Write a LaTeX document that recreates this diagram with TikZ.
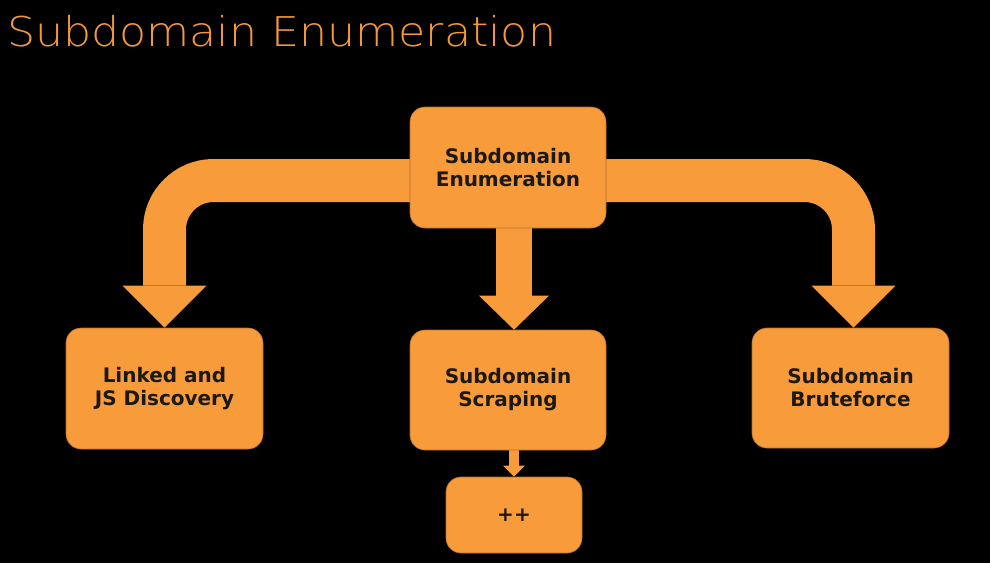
\documentclass[tikz,border=0pt]{standalone}
\usepackage{fontspec}
\setmainfont{DejaVu Sans}
\newfontfamily\titlefont{DejaVu Sans ExtraLight}[FakeStretch=1.08]
\usetikzlibrary{arrows.meta,backgrounds}

\definecolor{boxorange}{HTML}{F89B3B}
\definecolor{titleorange}{HTML}{F4983A}
\definecolor{boxtext}{HTML}{1C1814}
\definecolor{boxedge}{HTML}{B86E25}

\tikzset{
	stepbox/.style={fill=boxorange, draw=boxedge, line width=0.6pt, rounded corners=15pt,
		text=boxtext, font=\bfseries\fontsize{20}{23}\selectfont, align=center,
		minimum width=196pt, minimum height=121pt, inner sep=0pt},
	bigarrow/.style={draw=boxorange, line width=43pt, rounded corners=49pt,
		-{Triangle[width=84pt, length=42pt, line width=0pt]}},
}

\begin{document}
\begin{tikzpicture}[x=1pt, y=-1pt]
	% Title
	\node[anchor=base west, inner sep=0pt, text=titleorange,
		font=\titlefont\fontsize{41}{41}\selectfont] (title) at (7, 46) {Subdomain Enumeration};
	
	% Boxes
	\node[stepbox] (enum) at (508, 167.5) {Subdomain\\Enumeration};
	\node[stepbox, minimum width=197pt] (linked) at (164.5, 388.5) {Linked and\\JS Discovery};
	\node[stepbox, minimum height=120pt] (scraping) at (508, 390) {Subdomain\\Scraping};
	\node[stepbox, minimum width=197pt, minimum height=120pt] (brute) at (850.5, 388) {Subdomain\\Bruteforce};
	\node[stepbox, minimum width=136pt, minimum height=76pt] (more) at (514, 515) {++};
	
	\begin{scope}[on background layer]
		\fill[black] (0, 0) rectangle (990, 563);
		
		% Bent arrows behind the top box
		\draw[bigarrow] ([yshift=-13pt]enum.center) -| (linked.north);
		\draw[bigarrow] ([yshift=-13pt]enum.center) -| ([xshift=3pt]brute.north);
		
		% Straight arrows
		\draw[draw=boxorange, line width=36pt, -{Triangle[width=70pt, length=34pt, line width=0pt]}]
			([xshift=6pt]enum.south) -- ([xshift=6pt]scraping.north);
		\draw[draw=boxorange, line width=10pt, -{Triangle[width=22pt, length=11pt, line width=0pt]}]
			([xshift=6pt]scraping.south) -- (more.north);
	\end{scope}
\end{tikzpicture}
\end{document}
